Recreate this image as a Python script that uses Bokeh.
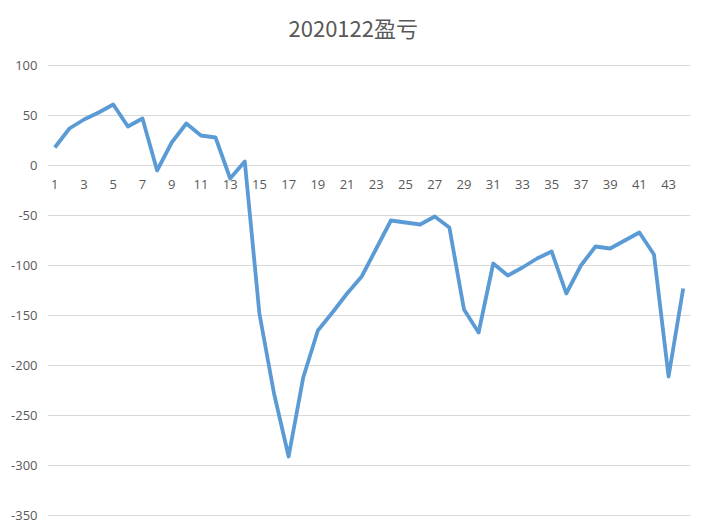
from bokeh.plotting import figure
from bokeh.models import FixedTicker, Range1d, Title
from bokeh.core.properties import value
from bokeh.embed import file_html
from bokeh.resources import INLINE

categories = list(range(1, 45))
values = [18, 37, 46, 53, 61, 39, 47, -5, 23, 42, 30, 28, -13, 4,
          -148, -228, -291, -212, -165, -147, -128, -111,
          -83, -55, -57, -59, -51, -62, -144, -167,
          -98, -110, -102, -93, -86, -128, -100, -81,
          -83, -75, -67, -89, -211, -123]
x_ticks = list(range(1, 44, 2))
x_tick_labels = [str(t) for t in x_ticks]
y_ticks = [-350, -300, -250, -200, -150, -100, -50, 0, 50, 100]
title_text = "2020122盈亏"

p = figure(frame_width=643, frame_height=452, output_backend="svg", toolbar_location=None,
           x_range=Range1d(0.5, 44.5), y_range=Range1d(-351, 101),
           x_axis_location=None,
           min_border_left=47, min_border_right=8, min_border_top=64, min_border_bottom=9)
p.outline_line_color = None
p.background_fill_color = "white"
p.border_fill_color = "white"

# spacer between plot area and title, then the title itself
p.add_layout(Title(text=" ", text_font_size="1px", standoff=18), "above")
p.add_layout(Title(text=title_text, text_font="Noto Sans CJK SC", text_font_size="22px",
                   text_font_style="normal", text_color="#595959", align="left",
                   offset=241, vertical_align="middle", standoff=0), "above")

p.line(categories, values, line_color="#5B9BD5", line_width=3.8, line_join="round")

# category labels sitting under the zero line
p.text(x=x_ticks, y=[0] * len(x_ticks), text=x_tick_labels, y_offset=19,
       text_align="center", text_baseline="middle",
       text_font=value("Open Sans"), text_font_size="13px", text_color="#595959")

p.xgrid.grid_line_color = None
p.ygrid.grid_line_color = "#d9d9d9"
p.ygrid.ticker = FixedTicker(ticks=y_ticks)

p.yaxis.ticker = FixedTicker(ticks=y_ticks)
p.yaxis.major_label_overrides = {t: str(t) for t in y_ticks}
p.yaxis.axis_line_color = None
p.yaxis.major_tick_line_color = None
p.yaxis.minor_tick_line_color = None
p.yaxis.major_tick_out = 0
p.yaxis.major_tick_in = 0
p.yaxis.major_label_text_font = "Open Sans"
p.yaxis.major_label_text_font_size = "13px"
p.yaxis.major_label_text_color = "#595959"
p.yaxis.major_label_standoff = 10

open("out.html", "w").write(file_html(p, INLINE))
